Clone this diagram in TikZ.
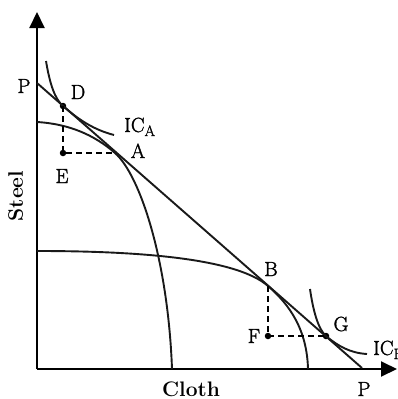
\documentclass[tikz,border=0pt]{standalone}
\usepackage{fontspec}
\newfontfamily\lblfont{Latin Modern Roman}[FakeBold=1.5]
\usetikzlibrary{arrows.meta}
\begin{document}
\begin{tikzpicture}[x=1pt,y=-1pt,
  curve/.style={line width=1.9pt,color=black!90},
  axis/.style={line width=2pt,-{Triangle[length=16pt,width=15pt]}},
  guide/.style={line width=1.7pt,dash pattern=on 6pt off 4pt},
  dot/.style={circle,fill=black,inner sep=0pt,minimum size=6.5pt},
  lbl/.style={inner sep=0pt,anchor=base,font=\fontsize{20.5}{24}\lblfont},
  axlbl/.style={inner sep=0pt,anchor=base,font=\fontsize{21}{24}\selectfont\bfseries}]
\useasboundingbox (0,0) rectangle (397,399);
% origin and axes
\coordinate (O) at (37,369);
\coordinate (Ytop) at (37,12);
\coordinate (Xend) at (397,369);
\draw[axis] (O) -- (Ytop);
\draw[axis] (O) -- (Xend);
% key points
\coordinate (P1) at (37,83);
\coordinate (P2) at (362,368);
\node[dot] (D) at (63,106) {};
\node[dot] (E) at (63,153) {};
\coordinate (A) at (115,153);
\coordinate (B) at (268,286);
\node[dot] (F) at (268,336) {};
\node[dot] (G) at (326,336) {};
% trade line
\draw[curve] (P1) -- (P2);
% PPF A
\coordinate (PAs) at (37,122);
\coordinate (PAe) at (172,369);
\draw[curve] (PAs) .. controls (70,124) and (95,135.5) .. (A)
  .. controls (140,175) and (168,260) .. (PAe);
% PPF B
\coordinate (PBs) at (37,251);
\coordinate (PBe) at (308,369);
\draw[curve] (PBs) .. controls (130,251) and (235,257) .. (B)
  .. controls (290,305) and (307,330) .. (PBe);
% IC A
\coordinate (ICAs) at (46,61);
\coordinate (ICAe) at (114,135);
\draw[curve] (ICAs) .. controls (50,85) and (55,99) .. (D.center)
  .. controls (80,121) and (95,130) .. (ICAe);
% IC B
\coordinate (ICBs) at (310,289);
\coordinate (ICBe) at (367,354);
\draw[curve] (ICBs) .. controls (313,310) and (318,329) .. (G.center)
  .. controls (338,346) and (350,353) .. (ICBe);
% dashed guides
\draw[guide] (D.center) -- (E.center) -- (A);
\draw[guide] (B) -- (F.center) -- (G.center);
% labels
\node[lbl] (lP1) at (24,93) {P};
\node[lbl] (lD) at (78,99) {D};
\node[lbl,anchor=base west] (lICA) at (124,132) {IC\raisebox{-4pt}{\fontsize{15}{17}\lblfont A}};
\node[lbl] (lA) at (138,158) {A};
\node[lbl] (lE) at (62,183) {E};
\node[lbl] (lB) at (271,276) {B};
\node[lbl] (lF) at (254,343) {F};
\node[lbl] (lG) at (341,331) {G};
\node[lbl,anchor=base west] (lICB) at (373,355) {IC\raisebox{-4pt}{\fontsize{15}{17}\lblfont B}};
\node[lbl] (lP2) at (364,396) {P};
\node[axlbl] (lCloth) at (191,396) {Cloth};
\node[axlbl,rotate=90] (lSteel) at (23,196) {Steel};
\end{tikzpicture}
\end{document}
